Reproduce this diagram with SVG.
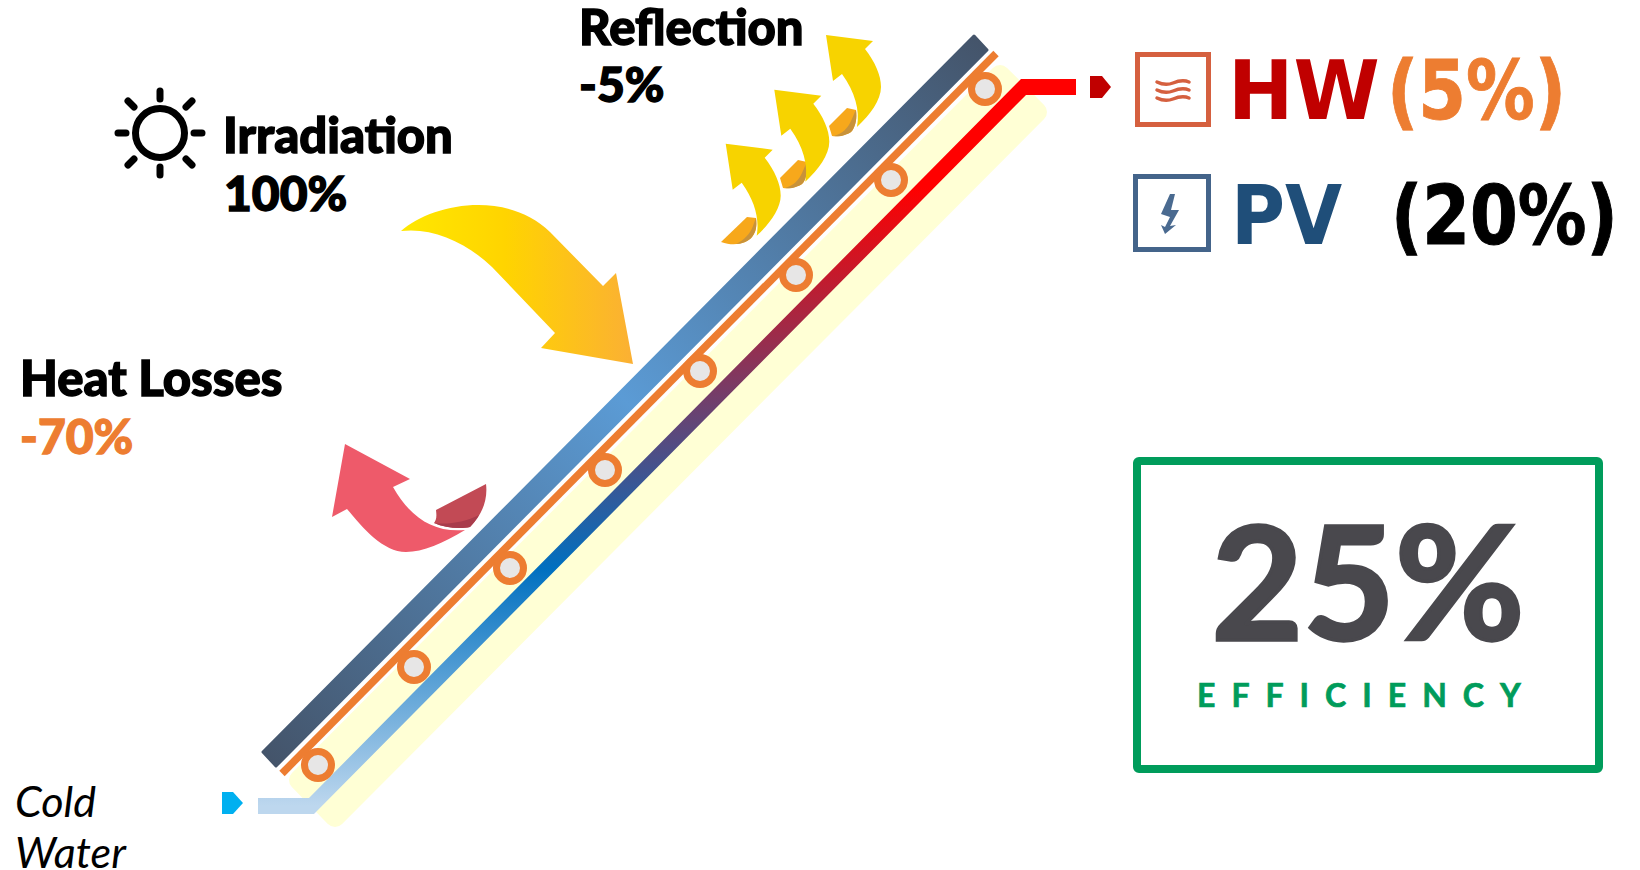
<svg xmlns="http://www.w3.org/2000/svg" width="1640" height="870" viewBox="0 0 1640 870">
<style>
text{font-family:"Lato","Liberation Sans",sans-serif}
.h{font-weight:900;font-size:49px;fill:#000;stroke:#000;stroke-width:1.4}
.c{font-family:"DejaVu Sans Condensed","DejaVu Sans",sans-serif;font-stretch:condensed;font-weight:700;font-size:82px}
.ring{fill:#e7e6e6;stroke:#ed7d31;stroke-width:7}
.ray{stroke:#000;stroke-width:7;stroke-linecap:round;fill:none}
.wave{stroke:#d5603f;stroke-width:3.5;stroke-linecap:round;fill:none}
.ry{fill:#f7d300}
.ro{fill:#f7a81b}
.rs{fill:#c8923a}
</style>
<defs>
<linearGradient id="panel" gradientUnits="userSpaceOnUse" x1="269" y1="760" x2="982" y2="42"><stop offset="0" stop-color="#44546a"/><stop offset=".5" stop-color="#5b9bd5"/><stop offset="1" stop-color="#44546a"/></linearGradient>
<linearGradient id="pipe" gradientUnits="userSpaceOnUse" x1="0" y1="806" x2="0" y2="87"><stop offset="0" stop-color="#bdd7ee"/><stop offset=".33" stop-color="#0070c0"/><stop offset=".86" stop-color="#ff0000"/><stop offset="1" stop-color="#ff0000"/></linearGradient>
<linearGradient id="sunarrow" gradientUnits="userSpaceOnUse" x1="401" y1="0" x2="633" y2="0"><stop offset="0" stop-color="#ffe800"/><stop offset=".45" stop-color="#ffd400"/><stop offset="1" stop-color="#fbb034"/></linearGradient>
<g id="refl"><path class="ry" d="M826 35L873 41L865 49C875 62 881 75 881 87C881 100 870 115 857 127C860 110 855 92 842 74L833 81Z"/></g>
<g id="reflo"><path class="ro" d="M829 126L847 108L856 110C857 118 856 125 852 131C848 135 838 137 832 136Z"/><path class="rs" d="M856 110C857 118 856 125 852 131C848 135 840 137 834 136C842 134 848 128 851 121C853 117 854 113 856 110Z"/></g>
</defs>
<g id="collector">
<polygon points="1000,75 1037,112 335,817 299,780" fill="#ffffd5" stroke="#ffffd5" stroke-width="20" stroke-linejoin="round"/>
<polygon points="974,36 987,50 276,766 263,752" fill="url(#panel)" stroke="url(#panel)" stroke-width="3" stroke-linejoin="round"/>
<line x1="996" y1="53.5" x2="282" y2="773.5" stroke="#fff" stroke-width="10"/>
</g>
<g id="connectors">
<line x1="996" y1="53.5" x2="282" y2="773.5" stroke="#ed7d31" stroke-width="7.5"/>
<polygon points="258,798 309,798 1021,79 1076,79 1076,95 1026,95 314,814 258,814" fill="url(#pipe)"/>
<polygon points="1090,76 1102,76 1111,87 1102,98 1090,98" fill="#c00000"/>
<polygon points="222,792 233,792 243,803 233,814 222,814" fill="#00b0f0"/>
</g>
<g id="tubes">
<circle class="ring" cx="318" cy="765" r="13.5"/>
<circle class="ring" cx="414" cy="667" r="13.5"/>
<circle class="ring" cx="510" cy="568" r="13.5"/>
<circle class="ring" cx="605" cy="470" r="13.5"/>
<circle class="ring" cx="700" cy="371" r="13.5"/>
<circle class="ring" cx="796" cy="275" r="13.5"/>
<circle class="ring" cx="891" cy="180" r="13.5"/>
<circle class="ring" cx="985" cy="89" r="13.5"/>
</g>
<g id="irradiation">
<circle cx="160" cy="133" r="24.5" fill="none" stroke="#000" stroke-width="7"/>
<path class="ray" d="M160 91V99M160 167V175M118 133H126M194 133H202M128 101L134 107M192 101L186 107M128 165L134 159M192 165L186 159"/>
<text class="h" x="223" y="153">Irradiation</text>
<text class="h" x="224" y="211" font-size="48" style="font-size:48px">100%</text>
<path fill="url(#sunarrow)" d="M401 231C433 203 507 190 550 232L603 286L616 273L633 364L541 348L555 333L492 267C467 243 433 227 401 231Z"/>
</g>
<g id="reflection">
<text class="h" x="579" y="45">Reflection</text>
<text class="h" x="579" y="102" style="font-size:48px">-5%</text>
<use href="#refl"/><use href="#reflo"/>
<use href="#reflo" transform="translate(-49 52)"/><use href="#refl" transform="translate(-51.7 54.7)"/>
<path class="ro" d="M721 242L747 217L756 218C757 226 756 232 752 237C747 243 735 247 721 242Z"/>
<path class="rs" d="M756 218C757 226 756 232 752 237C749 241 742 244 736 244C744 240 750 234 753 226C754 223 755 220 756 218Z"/>
<use href="#refl" transform="translate(-100.3 108.7)"/>
</g>
<g id="heat-losses">
<text class="h" x="20" y="396">Heat Losses</text>
<text x="20" y="454" font-size="48" font-weight="900" fill="#ed7d31" stroke="#ed7d31" stroke-width="1.3">-70%</text>
<path fill="#ee5a6a" d="M345 444L410 479L393 487C410 517 433 533 465 530C443 543 423 552 406 552C383 552 363 528 347 509L332 517Z"/>
<path fill="#c24a55" d="M486 484L436 510C437 518 436 520 434 523C445 528 460 529 470 527C482 515 488 500 486 484Z"/>
<path fill="#a83c4c" d="M434 523C448 525 465 522 479 515C476 520 473 524 470 527C460 529 445 528 434 523Z"/>
</g>
<g id="cold-water">
<text x="15" y="817" font-size="43" font-style="italic" fill="#000">Cold</text>
<text x="15" y="868" font-size="43" font-style="italic" fill="#000">Water</text>
</g>
<g id="hw">
<rect x="1137.5" y="54.5" width="71" height="70" fill="none" stroke="#d5603f" stroke-width="5"/>
<path class="wave" d="M1157 82C1163 85 1168 85 1173 83C1178 81 1184 80 1189 82M1157 90C1163 93 1168 93 1173 91C1178 89 1184 88 1189 90M1157 98C1163 101 1168 101 1173 99C1178 97 1184 96 1189 98"/>
<text class="c" transform="translate(1228 119) scale(1.06 1)" fill="#c00000">HW</text>
<text class="c" transform="translate(1387 119) scale(.93 1)" fill="#ed7d31" stroke="#ed7d31" stroke-width=".8">(5%)</text>
</g>
<g id="pv">
<rect x="1135.5" y="176.5" width="73" height="73" fill="none" stroke="#44648a" stroke-width="5"/>
<polygon points="1170,194 1175,194 1171,210 1179,210 1170,226 1176,225 1165,234 1161,225 1165,227 1170,217 1161,214" fill="#4a6a90"/>
<text class="c" x="1231" y="244" fill="#1f4e79">PV</text>
<text class="c" transform="translate(1391 244) scale(.93 1)" fill="#000" stroke="#000" stroke-width="1">(20%)</text>
</g>
<g id="efficiency">
<rect x="1137" y="461" width="462" height="308" rx="2" fill="none" stroke="#009c5b" stroke-width="8" stroke-linejoin="round"/>
<text x="1368" y="640" text-anchor="middle" font-size="158" font-weight="700" fill="#49484d" stroke="#49484d" stroke-width="3.5">25%</text>
<text x="1197" y="707" font-size="32" font-weight="700" fill="#009c5b" stroke="#009c5b" stroke-width=".7" letter-spacing="16">EFFICIENCY</text>
</g>
</svg>
